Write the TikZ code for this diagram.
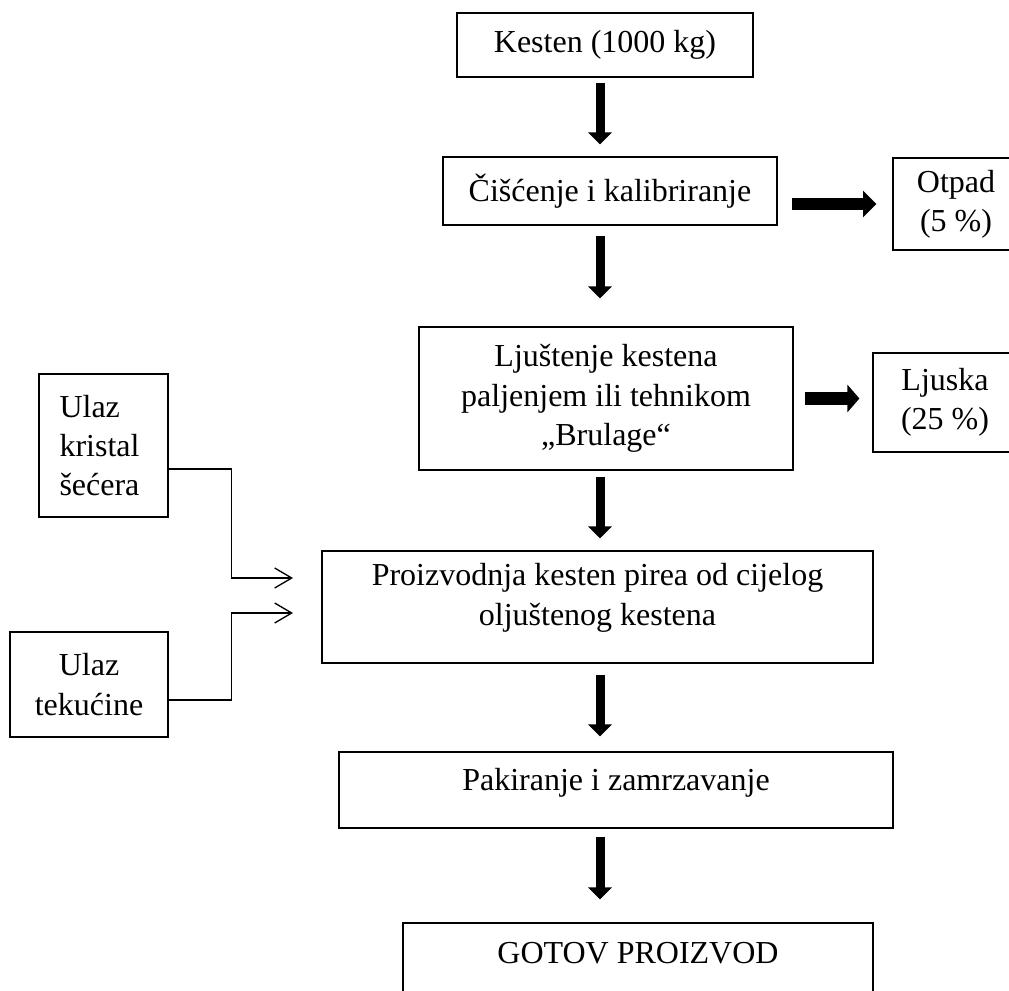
\documentclass[tikz,border=0pt]{standalone}
\usepackage{fontspec}
\setmainfont{Liberation Serif}
\usetikzlibrary{arrows.meta}
\begin{document}
\begin{tikzpicture}[x=0.75pt,y=-0.75pt,
  every node/.style={font=\fontsize{24}{29.5}\selectfont},
  box/.style={draw, line width=0.9pt, inner sep=0pt, align=center},
  txt/.style={align=center, inner sep=0pt},
  vblk/.style={line width=6.75pt, -{Triangle[width=17.25pt,length=9pt]}},
  hblk/.style={line width=9.5pt, -{Triangle[width=19.5pt,length=10pt]}},
  hblkb/.style={line width=9.75pt, -{Triangle[width=20.25pt,length=9pt]}},
  con/.style={line width=1pt, -{Straight Barb[length=12.75pt,width=15pt]}}]
\useasboundingbox (0,0) rectangle (1009,991);
\clip (0,0) rectangle (1009,991);

\node[box, minimum width=222pt, minimum height=48pt] (kesten) at (605,45) {Kesten (1000 kg)};
\node[box, minimum width=250.5pt, minimum height=51pt] (cisc) at (610,191) {Čišćenje i kalibriranje};
\node[box, minimum width=94.5pt, minimum height=69pt] (otpad) at (956,204) {Otpad\\(5~\%)};
\node[box, minimum width=280.5pt, minimum height=107.25pt] (ljust) at (606,398.5) {Ljuštenje kestena\\paljenjem ili tehnikom\\„Brulage“};
\node[box, minimum width=108pt, minimum height=74.25pt] (ljuska) at (945,402.5) {Ljuska\\(25~\%)};
\node[box, minimum width=96.75pt, minimum height=107.25pt, text width=66pt, align=left] (ulazk) at (103.5,445.5) {Ulaz\\kristal\\šećera};
\node[box, minimum width=118.5pt, minimum height=78.75pt] (ulazt) at (89,684.5) {Ulaz\\tekućine};
\node[box, minimum width=413.25pt, minimum height=84pt,
  label={[txt, name=proizvt, yshift=6.75pt]center:Proizvodnja kesten pirea od cijelog\\oljuštenog kestena}] (proizv) at (597.5,607) {};
\node[box, minimum width=415.5pt, minimum height=57pt,
  label={[txt, name=pakt, yshift=5.25pt]center:Pakiranje i zamrzavanje}] (pak) at (616,790) {};
\node[box, minimum width=352.5pt, minimum height=57.75pt,
  label={[txt, name=gotovt, yshift=6.4pt]center:GOTOV PROIZVOD}] (gotov) at (638,961.5) {};

\coordinate (ax) at (600,0);
\draw[vblk, shorten <=3.75pt, shorten >=9pt] (kesten.south -| ax) -- (cisc.north -| ax);
\draw[vblk, shorten <=7.5pt, shorten >=21pt] (cisc.south -| ax) -- (ljust.north -| ax);
\draw[vblk, shorten <=4.5pt, shorten >=9pt] (ljust.south -| ax) -- (proizv.north -| ax);
\draw[vblk, shorten <=8.25pt, shorten >=11.25pt] (proizv.south -| ax) -- (pak.north -| ax);
\draw[vblk, shorten <=6pt, shorten >=17.25pt] (pak.south -| ax) -- (gotov.north -| ax);

\draw[hblk, shorten <=10.5pt, shorten >=12pt] (cisc.east |- otpad.west) -- (otpad.west);
\draw[hblkb, shorten <=8.25pt, shorten >=9.75pt] (ljust.east) -- (ljust.east -| ljuska.west);

\coordinate (bx) at (231.7,0);
\coordinate (in1) at (293,578);
\coordinate (in2) at (293,613);
\draw[con] (ulazk.east |- 0,469) -| (in1 -| bx) -- (in1);
\draw[con] (ulazt.east |- 0,700) -| (in2 -| bx) -- (in2);
\end{tikzpicture}
\end{document}
